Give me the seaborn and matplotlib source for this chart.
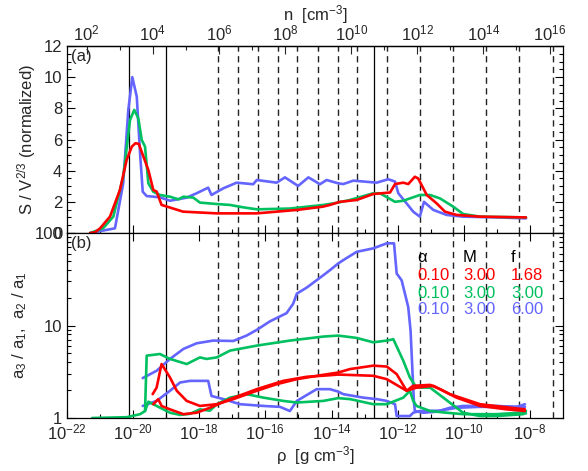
import numpy as np
import pandas as pd
import matplotlib
matplotlib.use('Agg')
import matplotlib.pyplot as plt
import matplotlib.ticker as mticker
import seaborn as sns

# ---------------- data (log10 rho [g cm^-3], values) ----------------
# panel (a): S / V^(2/3)
red_a_logrho = [-21.30, -21.15, -21.00, -20.70, -20.40, -20.195, -20.04, -19.93, -19.83,
                -19.54, -19.39, -19.29, -19.14, -18.985, -18.49, -17.47, -16.26, -15.05,
                -14.26, -14.05, -13.745, -13.24, -12.74, -12.23, -12.08, -11.83, -11.68,
                -11.48, -11.38, -11.12, -10.82, -10.57, -10.22, -9.51, -8.12]
red_a_S = [0.0, 0.05, 0.3, 1.05, 2.76, 4.7, 5.54, 5.76, 5.72,
           4.04, 2.76, 2.66, 1.8, 1.7, 1.37, 1.26, 1.26, 1.48,
           1.69, 1.8, 2.0, 2.12, 2.5, 2.6, 3.14, 3.23, 3.14,
           3.61, 3.5, 2.44, 1.9, 1.37, 1.16, 1.05, 1.0]

green_a_logrho = [-21.30, -20.91, -20.60, -20.30, -20.095, -19.965, -19.844, -19.74, -19.64,
                  -19.54, -19.39, -19.19, -18.885, -18.63, -18.48, -18.18, -17.98, -17.47,
                  -17.07, -16.68, -16.26, -15.26, -14.25, -13.81, -13.44, -12.74, -12.535,
                  -12.08, -11.83, -11.63, -11.33, -11.02, -10.72, -10.32, -10.02, -9.51, -8.12]
green_a_S = [0.0, 0.3, 1.05, 3.6, 7.25, 7.9, 7.36, 5.97, 5.54,
             3.19, 2.65, 2.44, 2.33, 2.16, 2.33, 2.27, 1.95, 1.86,
             1.8, 1.65, 1.52, 1.57, 1.8, 1.95, 2.12, 2.55, 2.55,
             2.0, 2.07, 2.22, 2.44, 2.44, 2.22, 1.69, 1.22, 1.05, 1.0]

blue_a_logrho = [-21.30, -20.55, -20.30, -20.146, -20.025, -19.89, -19.79, -19.71, -19.59,
                 -19.19, -18.885, -18.38, -18.08, -17.73, -17.63, -17.27, -16.87, -16.37,
                 -16.26, -15.66, -15.41, -15.01, -14.70, -14.35, -14.15, -13.80, -13.645,
                 -13.34, -12.635, -12.285, -12.08, -11.98, -11.73, -11.53, -11.33, -11.205,
                 -10.92, -10.52, -10.03, -9.01, -8.12]
blue_a_S = [0.0, 0.3, 3.19, 7.9, 10.0, 8.75, 5.1, 2.65, 2.37,
            2.29, 2.07, 2.27, 2.55, 2.91, 2.44, 2.87, 3.23, 3.13,
            3.4, 3.23, 3.57, 3.02, 3.57, 3.13, 3.4, 3.19, 3.14,
            3.36, 3.23, 3.45, 3.3, 2.55, 1.9, 1.37, 1.05, 2.0,
            1.48, 1.16, 1.05, 1.0, 0.94]

# panel (b): axis ratios a3/a1 (lower) and a2/a1 (upper)
green_b_up_logrho = [-21.24, -20.195, -19.79, -19.64, -19.59, -19.19, -18.885, -18.38, -17.98,
                     -17.78, -17.47, -17.07, -16.26, -15.26, -14.25, -13.80, -13.24, -12.74,
                     -12.33, -12.13, -11.83, -11.63, -11.43, -11.02, -10.62, -10.22, -10.02,
                     -9.51, -9.01, -8.20, -8.12]
green_b_up = [1.0, 1.02, 1.1, 1.19, 4.72, 4.92, 4.35, 3.83, 4.52,
              4.35, 4.52, 5.35, 6.06, 6.87, 7.59, 7.78, 7.34, 6.58,
              6.87, 7.1, 4.16, 2.74, 2.13, 2.13, 1.66, 1.29, 1.14,
              1.05, 1.05, 1.1, 1.19]
green_b_lo_logrho = [-19.64, -19.54, -19.29, -18.885, -18.58, -18.28, -17.98, -17.68, -17.47,
                     -17.07, -16.57, -16.06, -15.46, -15.05, -14.25, -13.80, -13.44, -12.74,
                     -12.33, -11.83, -11.63, -11.53, -11.43, -11.02, -10.52, -10.02, -9.01,
                     -8.30, -8.12]
green_b_lo = [1.19, 1.5, 1.35, 1.14, 1.08, 1.11, 1.24, 1.2, 1.41,
              1.66, 1.81, 1.66, 1.53, 1.47, 1.53, 1.64, 1.6, 1.41,
              1.41, 1.66, 1.97, 1.53, 1.35, 1.19, 1.14, 1.1, 1.1,
              1.14, 1.12]

blue_b_up_logrho = [-19.71, -19.29, -18.885, -18.48, -18.08, -17.58, -16.97, -16.57, -16.26,
                    -15.86, -15.36, -15.16, -15.05, -14.75, -14.25, -14.05, -13.80, -13.645,
                    -13.24, -12.74, -12.33, -12.11, -12.03, -11.88, -11.68, -11.61, -11.53,
                    -11.51, -11.48, -11.23, -10.82, -10.42, -10.02, -9.51, -9.01, -8.40, -8.15]
blue_b_up = [2.70, 3.24, 4.35, 5.58, 6.42, 6.87, 6.8, 7.78, 8.97,
             11.1, 13.6, 17.2, 22.1, 25.7, 34.9, 39.6, 46.8, 50.9,
             62.6, 68.2, 77.3, 77.3, 36.5, 30.8, 15.8, 8.8, 2.13,
             1.53, 1.19, 1.14, 1.17, 1.29, 1.35, 1.35, 1.35, 1.32, 1.41]
blue_b_lo_logrho = [-19.71, -19.29, -18.885, -18.58, -18.28, -17.73, -17.63, -17.27, -16.77,
                    -16.06, -15.56, -15.26, -15.05, -14.45, -14.05, -13.80, -13.645, -13.04,
                    -12.635, -12.33, -12.08, -12.03, -11.63, -11.53, -11.33, -10.72, -10.22,
                    -9.51, -8.15]
blue_b_lo = [1.35, 1.53, 1.97, 2.42, 2.52, 2.52, 1.73, 1.6, 1.41,
             1.35, 1.32, 1.19, 1.53, 2.05, 2.05, 1.93, 1.81, 1.66,
             1.6, 1.53, 1.41, 1.05, 1.05, 1.14, 1.19, 1.2, 1.29,
             1.32, 1.32]

red_b_up_logrho = [-19.41, -19.29, -19.14, -18.885, -18.68, -18.38, -17.98, -17.47, -16.97,
                   -16.26, -15.66, -15.05, -14.25, -13.80, -13.44, -12.74, -12.33, -12.03,
                   -11.73, -11.53, -11.02, -10.72, -10.22, -9.51, -8.70, -8.15]
red_b_up = [1.81, 2.13, 3.83, 2.74, 1.97, 1.53, 1.35, 1.41, 1.6,
            1.97, 2.32, 2.63, 2.93, 3.1, 3.38, 3.68, 3.6, 2.98,
            1.97, 2.23, 2.28, 2.05, 1.66, 1.35, 1.24, 1.19]
red_b_lo_logrho = [-19.39, -19.24, -19.14, -18.885, -18.48, -18.08, -17.68, -17.07, -16.26,
                   -15.46, -14.75, -14.05, -13.80, -12.74, -12.33, -11.73, -11.43, -10.92,
                   -10.42, -9.51, -8.15]
red_b_lo = [1.41, 1.6, 1.35, 1.24, 1.1, 1.14, 1.29, 1.6, 2.05,
            2.52, 2.79, 2.9, 2.95, 2.86, 2.63, 1.97, 2.13, 2.23,
            1.81, 1.41, 1.24]

# reference densities (log10 rho) of vertical marker lines
solid_lines_logrho = [-20.125, -19.0, -12.72]
dashed_lines_logrho = [-17.44, -16.84, -16.23, -15.63, -15.03, -14.42, -13.81, -13.22,
                       -12.33, -11.33, -10.32, -9.33, -8.32, -7.31]

# legend table
legend_header = ['\u03b1', 'M', 'f']
legend_rows = [['0.10', '3.00', '1.68'],
               ['0.10', '3.00', '3.00'],
               ['0.10', '3.00', '6.00']]

MU_MH = 2.34 * 1.67e-24  # g, mean particle mass

RED, GREEN, BLUE = '#FF0000', '#00C060', '#6464FF'

# ---------------- style ----------------
sns.set_style('ticks')
plt.rcParams['font.family'] = ['Liberation Sans', 'DejaVu Sans']
plt.rcParams['mathtext.default'] = 'regular'
plt.rcParams['font.size'] = 12
plt.rcParams['axes.linewidth'] = 0.9
plt.rcParams['axes.edgecolor'] = 'black'

fig = plt.figure(figsize=(5.88, 4.71), dpi=100)
W, H = 588.0, 471.0
L0, R0 = 67.0, 563.0
T0, MID, B0 = 46.0, 233.0, 418.0
ax1 = fig.add_axes([L0 / W, 1 - MID / H, (R0 - L0) / W, (MID - T0) / H])
ax2 = fig.add_axes([L0 / W, 1 - B0 / H, (R0 - L0) / W, (B0 - MID) / H])

LW = 1.9


def draw(ax, lr, vals, color):
    df = pd.DataFrame({'rho': 10.0 ** np.asarray(lr), 'v': vals})
    sns.lineplot(data=df, x='rho', y='v', ax=ax, color=color, lw=LW,
                 sort=False, estimator=None, legend=False)


for ax in (ax1, ax2):
    for v in solid_lines_logrho:
        ax.axvline(10.0 ** v, color='black', lw=0.9, zorder=1)
    for v in dashed_lines_logrho:
        ax.axvline(10.0 ** v, color='#222222', lw=1.0, ls=(0, (4.5, 3.2)), zorder=1)

# panel (a)
draw(ax1, blue_a_logrho, blue_a_S, BLUE)
draw(ax1, green_a_logrho, green_a_S, GREEN)
draw(ax1, red_a_logrho, red_a_S, RED)

# panel (b)
draw(ax2, blue_b_up_logrho, blue_b_up, BLUE)
draw(ax2, blue_b_lo_logrho, blue_b_lo, BLUE)
draw(ax2, green_b_up_logrho, green_b_up, GREEN)
draw(ax2, green_b_lo_logrho, green_b_lo, GREEN)
draw(ax2, red_b_up_logrho, red_b_up, RED)
draw(ax2, red_b_lo_logrho, red_b_lo, RED)

decfmt = mticker.FuncFormatter(lambda v, p: r'$10^{%d}$' % int(round(np.log10(v))))

for ax in (ax1, ax2):
    ax.set_xscale('log')
    ax.set_xlim(1e-22, 1e-7)
    ax.xaxis.set_major_locator(mticker.FixedLocator(10.0 ** np.arange(-22, -7, 2)))
    ax.xaxis.set_minor_locator(mticker.FixedLocator(10.0 ** np.arange(-21, -7, 2)))
    ax.xaxis.set_major_formatter(decfmt)
    ax.xaxis.set_minor_formatter(mticker.NullFormatter())
    ax.tick_params(which='both', direction='in', right=True, width=0.8, color='black')
    ax.tick_params(which='major', length=6)
    ax.tick_params(which='minor', length=3)
    ax.set_xlabel('')
    ax.set_ylabel('')
    for s in ax.spines.values():
        s.set_visible(True)
        s.set_color('black')

ax1.set_ylim(0, 12)
ax1.yaxis.set_major_locator(mticker.MultipleLocator(2))
ax1.yaxis.set_minor_locator(mticker.MultipleLocator(0.5))
ax1.tick_params(axis='x', labelbottom=False, top=False, bottom=True)

ax2.set_yscale('log')
ax2.set_ylim(1, 100)
ax2.yaxis.set_major_locator(mticker.FixedLocator([1, 10, 100]))
ax2.yaxis.set_minor_locator(mticker.LogLocator(base=10, subs=np.arange(2, 10)))
ax2.yaxis.set_major_formatter(mticker.FuncFormatter(lambda v, p: '%g' % v))
ax2.yaxis.set_minor_formatter(mticker.NullFormatter())
ax2.tick_params(axis='x', top=True)

# top n axis
sec = ax1.secondary_xaxis('top', functions=(lambda r: r / MU_MH, lambda n: n * MU_MH))
sec.set_xscale('log')
sec.xaxis.set_major_locator(mticker.FixedLocator(10.0 ** np.arange(2, 17, 2)))
sec.xaxis.set_minor_locator(mticker.FixedLocator(10.0 ** np.arange(1, 17, 2)))
sec.xaxis.set_major_formatter(decfmt)
sec.xaxis.set_minor_formatter(mticker.NullFormatter())
sec.tick_params(which='both', direction='in', width=0.8, pad=2)
sec.tick_params(which='major', length=6)
sec.tick_params(which='minor', length=3)
sec.set_xlabel(r'n  [cm$^{-3}$]', labelpad=2)

ax2.set_xlabel(r'$\rho$  [g cm$^{-3}$]', labelpad=1)
ax1.set_ylabel(r'S / V$^{2/3}$ (normalized)', labelpad=4)
ax2.set_ylabel(r'a$_3$ / a$_1$,  a$_2$ / a$_1$', labelpad=4)
fig.align_ylabels([ax1, ax2])

ax1.text(0.008, 0.985, '(a)', transform=ax1.transAxes, ha='left', va='top')
ax2.text(0.008, 0.985, '(b)', transform=ax2.transAxes, ha='left', va='top')

# legend table
col_x = [(417 - L0) / (R0 - L0), (463 - L0) / (R0 - L0), (511 - L0) / (R0 - L0)]
head_y = (B0 - 257) / (B0 - MID)
row_y = [(B0 - 275) / (B0 - MID), (B0 - 293) / (B0 - MID), (B0 - 310) / (B0 - MID)]
for cx, h in zip(col_x, legend_header):
    ax2.text(cx, head_y, h, transform=ax2.transAxes, ha='left', va='center', color='black')
for ry, row, c in zip(row_y, legend_rows, [RED, GREEN, BLUE]):
    for cx, s in zip(col_x, row):
        ax2.text(cx, ry, s, transform=ax2.transAxes, ha='left', va='center', color=c)

fig.savefig('out.png', dpi=100)
